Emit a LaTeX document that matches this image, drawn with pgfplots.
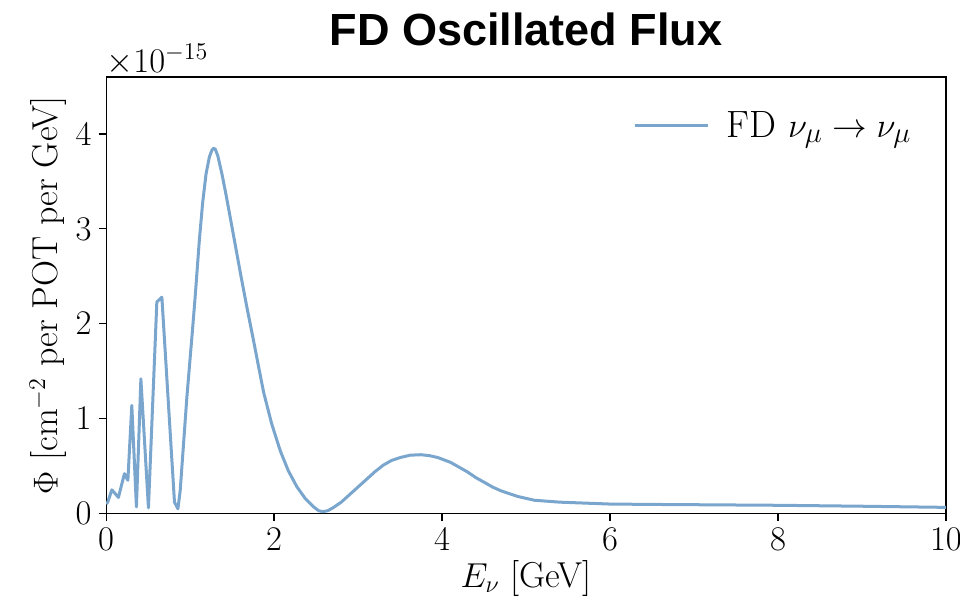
\documentclass[border=0pt]{standalone}
\usepackage{fontspec}
\newfontfamily\titlefont{Liberation Sans}
\usepackage{pgfplots}
\pgfplotsset{compat=1.18}
\definecolor{fluxblue}{RGB}{122,166,206}
\begin{document}
\begin{tikzpicture}
\useasboundingbox (-53pt,-44pt) rectangle (426.5pt,256.5pt);
\begin{axis}[
  scale only axis,
  width=419.5pt, height=218pt,
  at={(0,0)}, anchor=south west,
  xmin=0, xmax=10, ymin=0, ymax=4.6,
  xtick={0,2,4,6,8,10}, ytick={0,1,2,3,4},
  tick pos=left, tick align=outside,
  major tick length=3.8pt,
  every tick/.style={black, line width=0.6pt},
  axis line style={line width=0.6pt},
  tick label style={font=\fontsize{17}{20}\selectfont},
  label style={font=\fontsize{18}{21}\selectfont},
  xlabel={$E_\nu$ [GeV]},
  ylabel={$\Phi$ [cm$^{-2}$ per POT per GeV]},
  xlabel style={at={(axis description cs:0.5,-0.149)}, anchor=center},
  ylabel style={at={(axis description cs:-0.069,0.5)}, anchor=center},
  scaled y ticks=false,
  legend style={draw=none, fill=none, at={(axis description cs:0.964,0.888)}, anchor=east,
    font=\fontsize{19}{22}\selectfont, inner sep=0pt},
  legend image code/.code={\draw[#1] (0pt,0pt) -- (36.5pt,0pt); \path (43pt,0pt);},
  legend cell align=left,
]
\addplot[fluxblue, line width=1.5pt, line join=round] coordinates {
(0.00,0.10) (0.02,0.12) (0.068,0.25) (0.147,0.17) (0.218,0.42) (0.259,0.35)
(0.306,1.14) (0.361,0.07) (0.414,1.42) (0.504,0.06) (0.604,2.23) (0.664,2.28)
(0.814,0.12) (0.855,0.05) (0.882,0.24) (0.962,1.23) (1.03,1.95) (1.06,2.28)
(1.11,2.88) (1.15,3.28) (1.19,3.58) (1.23,3.76) (1.26,3.83) (1.28,3.85)
(1.30,3.84) (1.33,3.77) (1.379,3.58) (1.43,3.35) (1.478,3.12) (1.538,2.83)
(1.60,2.53) (1.677,2.17) (1.756,1.82) (1.815,1.55) (1.875,1.28) (1.97,0.95)
(2.074,0.66) (2.17,0.45) (2.273,0.28) (2.37,0.16) (2.471,0.07)
(2.53,0.03) (2.58,0.02) (2.64,0.03) (2.7,0.06) (2.8,0.12) (2.9,0.2)
(3.0,0.28) (3.1,0.36) (3.2,0.44) (3.3,0.51) (3.4,0.56) (3.5,0.59)
(3.62,0.615) (3.75,0.62) (3.85,0.61) (3.95,0.59) (4.1,0.54) (4.2,0.49)
(4.3,0.44) (4.4,0.38) (4.5,0.33) (4.6,0.28) (4.7,0.24) (4.8,0.21)
(4.9,0.18) (5.0,0.16) (5.1,0.14) (5.25,0.13) (5.4,0.12) (5.7,0.11)
(6.0,0.10) (6.5,0.096) (7.0,0.093) (7.5,0.09) (8.0,0.087) (8.5,0.082)
(9.0,0.077) (9.5,0.071) (10.0,0.065)
};
\addlegendentry{FD $\nu_\mu \rightarrow \nu_\mu$}
\end{axis}
\node[anchor=base west, font=\fontsize{17}{20}\selectfont, inner sep=0pt]
  at ([yshift=2.5pt]current axis.north west) {$\times10^{-15}$};
\node[anchor=base, font=\titlefont\bfseries\fontsize{22.5}{26}\selectfont, inner sep=0pt]
  at ([yshift=16pt]current axis.north) {FD Oscillated Flux};
\end{tikzpicture}
\end{document}
